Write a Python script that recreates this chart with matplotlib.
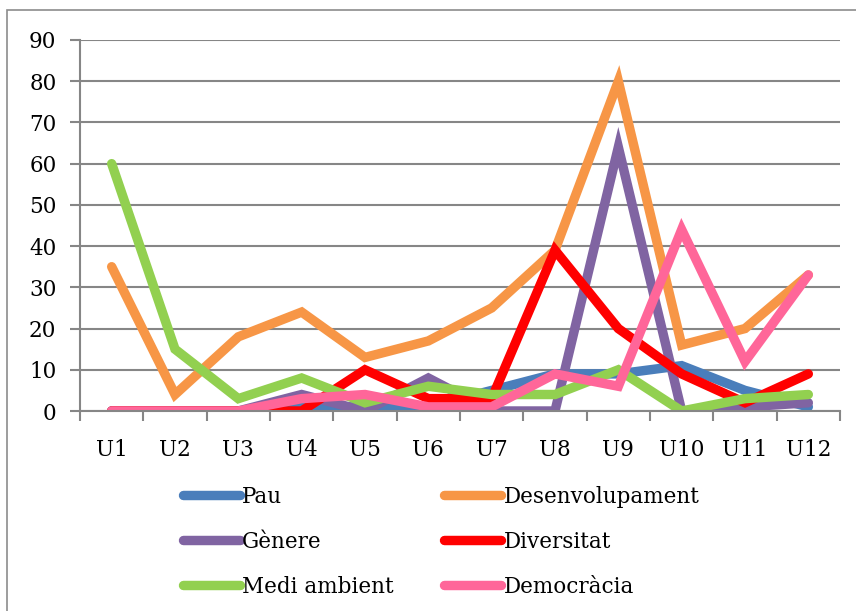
import matplotlib.pyplot as plt
import matplotlib.patches as mpatches

units = ["U1", "U2", "U3", "U4", "U5", "U6", "U7", "U8", "U9", "U10", "U11", "U12"]

pau = [0, 0, 0, 1, 1, 1, 5, 9, 9, 11, 5, 1]
desenvolupament = [35, 4, 18, 24, 13, 17, 25, 39, 80, 16, 20, 33]
genere = [0, 0, 0, 4, 0, 8, 0, 0, 64, 0, 1, 2]
diversitat = [0, 0, 0, 0, 10, 3, 3, 39, 20, 9, 2, 9]
medi_ambient = [60, 15, 3, 8, 2, 6, 4, 4, 10, 0, 3, 4]
democracia = [0, 0, 0, 3, 4, 1, 1, 9, 6, 44, 12, 33]

series = [
    ("Pau", pau, "#4A7EBB"),
    ("Desenvolupament", desenvolupament, "#F79646"),
    ("Gènere", genere, "#8064A2"),
    ("Diversitat", diversitat, "#FF0000"),
    ("Medi ambient", medi_ambient, "#92D050"),
    ("Democràcia", democracia, "#FF6699"),
]

plt.rcParams["font.family"] = ["DejaVu Serif"]
FS = 15.5

fig = plt.figure(figsize=(8.56, 6.11), dpi=100)
ax = fig.add_axes([80 / 856, 1 - 411 / 611, 760 / 856, 371 / 611])

# outer chart border
fig.patches.append(mpatches.Rectangle((7 / 856, -0.05), 1.2, 1 - 10 / 611 + 0.05,
                                      transform=fig.transFigure, fill=False,
                                      edgecolor="#8c8c8c", linewidth=1.2))

x = list(range(len(units)))
for name, vals, color in series:
    ax.plot(x, vals, color=color, linewidth=6.8, label=name,
            solid_capstyle="round", solid_joinstyle="miter")

grid_color = "#868686"
ax.set_ylim(0, 90)
ax.set_xlim(-0.5, len(units) - 0.5)
ax.set_yticks(range(0, 91, 10))
ax.yaxis.grid(True, color=grid_color, linewidth=1.5)
ax.set_axisbelow(True)
ax.set_xticks(x)
ax.set_xticklabels(units)
ax.set_xticks([i - 0.5 for i in range(len(units) + 1)], minor=True)
ax.tick_params(axis="x", which="major", length=0, pad=20, labelsize=FS)
ax.tick_params(axis="x", which="minor", length=7, width=1.5, color=grid_color)
ax.tick_params(axis="y", length=7, width=1.5, color=grid_color, pad=10, labelsize=FS)

for side in ["top", "right"]:
    ax.spines[side].set_visible(False)
ax.spines["left"].set_color(grid_color)
ax.spines["left"].set_linewidth(1.5)
ax.spines["bottom"].set_color(grid_color)
ax.spines["bottom"].set_linewidth(1.5)

handles, labels = ax.get_legend_handles_labels()
order = [0, 2, 4, 1, 3, 5]
fig.legend([handles[i] for i in order], [labels[i] for i in order],
           loc="upper left", bbox_to_anchor=(183 / 856, 1 - 486 / 611),
           ncol=2, frameon=False, fontsize=FS, handlelength=2.65,
           handletextpad=0.1, columnspacing=2.35, labelspacing=1.06,
           borderaxespad=0, borderpad=0)

fig.savefig("out.png", dpi=100)
